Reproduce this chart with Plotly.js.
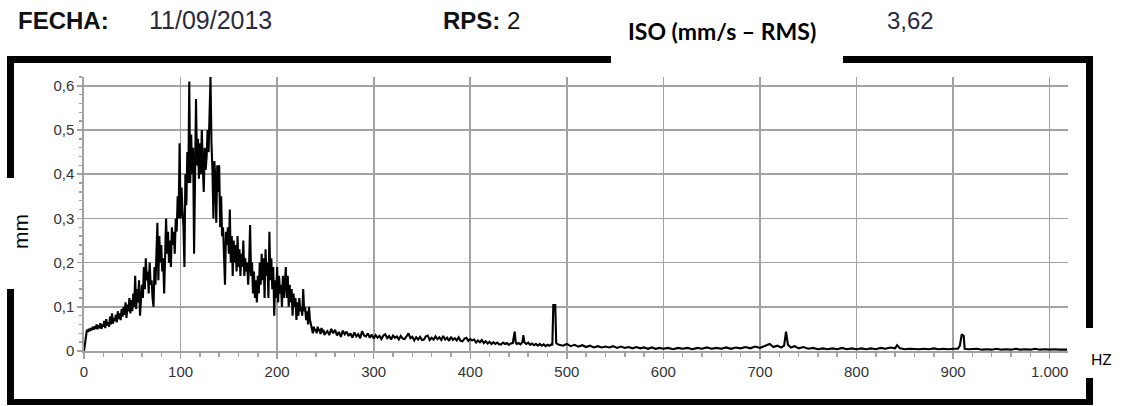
<!DOCTYPE html>
<html>
<head>
<meta charset="utf-8">
<script src="https://cdn.plot.ly/plotly-3.0.1.min.js"></script>
<style>
  html, body { margin: 0; padding: 0; background: #fff; }
  #chart { width: 1126px; height: 406px; }
</style>
</head>
<body>
<div id="chart"></div>
<script>
// ---- Data ----
// Low band, 1 Hz bins
const freqLowHz = [
  0, 1, 2, 3, 4, 5, 6, 7, 8, 9,
  10, 11, 12, 13, 14, 15, 16, 17, 18, 19,
  20, 21, 22, 23, 24, 25, 26, 27, 28, 29,
  30, 31, 32, 33, 34, 35, 36, 37, 38, 39,
  40, 41, 42, 43, 44, 45, 46, 47, 48, 49,
  50, 51, 52, 53, 54, 55, 56, 57, 58, 59,
  60, 61, 62, 63, 64, 65, 66, 67, 68, 69,
  70, 71, 72, 73, 74, 75, 76, 77, 78, 79,
  80, 81, 82, 83, 84, 85, 86, 87, 88, 89,
  90, 91, 92, 93, 94, 95, 96, 97, 98, 99,
  100, 101, 102, 103, 104, 105, 106, 107, 108, 109,
  110, 111, 112, 113, 114, 115, 116, 117, 118, 119,
  120, 121, 122, 123, 124, 125, 126, 127, 128, 129,
  130, 131, 132, 133, 134, 135, 136, 137, 138, 139,
  140, 141, 142, 143, 144, 145, 146, 147, 148, 149,
  150, 151, 152, 153, 154, 155, 156, 157, 158, 159,
  160, 161, 162, 163, 164, 165, 166, 167, 168, 169,
  170, 171, 172, 173, 174, 175, 176, 177, 178, 179,
  180, 181, 182, 183, 184, 185, 186, 187, 188, 189,
  190, 191, 192, 193, 194, 195, 196, 197, 198, 199,
  200, 201, 202, 203, 204, 205, 206, 207, 208, 209,
  210, 211, 212, 213, 214, 215, 216, 217, 218, 219,
  220, 221, 222, 223, 224, 225, 226, 227, 228, 229,
  230, 231, 232, 233, 234, 235, 236, 237, 238, 239,
  240, 241, 242, 243, 244, 245, 246, 247, 248, 249,
  250
];
const ampLowMm = [
  0, 0.02, 0.04, 0.048, 0.043, 0.05, 0.045, 0.052, 0.047, 0.055,
  0.048, 0.056, 0.05, 0.06, 0.049, 0.058, 0.052, 0.063, 0.05, 0.06,
  0.055, 0.068, 0.052, 0.072, 0.058, 0.065, 0.055, 0.078, 0.06, 0.085,
  0.062, 0.075, 0.068, 0.082, 0.065, 0.09, 0.072, 0.085, 0.07, 0.095,
  0.078, 0.1, 0.082, 0.11, 0.075, 0.105, 0.09, 0.12, 0.085, 0.115,
  0.09, 0.13, 0.1, 0.17, 0.095, 0.14, 0.11, 0.16, 0.08, 0.13,
  0.15, 0.12, 0.19, 0.14, 0.21, 0.16, 0.18, 0.13, 0.2, 0.15,
  0.16, 0.12, 0.1, 0.19, 0.15, 0.22, 0.29, 0.16, 0.26, 0.2,
  0.24, 0.18, 0.21, 0.13, 0.25, 0.3, 0.22, 0.27, 0.2, 0.25,
  0.19, 0.28, 0.24, 0.27, 0.22, 0.3, 0.27, 0.35, 0.3, 0.47,
  0.3, 0.37, 0.32, 0.28, 0.19, 0.4, 0.33, 0.45, 0.38, 0.61,
  0.38, 0.49, 0.4, 0.46, 0.22, 0.44, 0.57, 0.42, 0.48, 0.39,
  0.47, 0.4, 0.5, 0.42, 0.36, 0.46, 0.41, 0.44, 0.5, 0.45,
  0.56, 0.62, 0.47, 0.41, 0.3, 0.43, 0.39, 0.29, 0.42, 0.36,
  0.42, 0.28, 0.35, 0.26, 0.28, 0.23, 0.15, 0.27, 0.24, 0.28,
  0.22, 0.32, 0.2, 0.26, 0.17, 0.25, 0.2, 0.24, 0.18, 0.26,
  0.19, 0.23, 0.17, 0.22, 0.19, 0.25, 0.17, 0.21, 0.18, 0.2,
  0.15, 0.2, 0.285, 0.17, 0.2, 0.13, 0.18, 0.12, 0.16, 0.11,
  0.17, 0.13, 0.2, 0.15, 0.22, 0.16, 0.21, 0.12, 0.23, 0.17,
  0.2, 0.12, 0.27, 0.16, 0.21, 0.14, 0.19, 0.08, 0.16, 0.12,
  0.19, 0.11, 0.17, 0.13, 0.15, 0.1, 0.17, 0.12, 0.16, 0.19,
  0.12, 0.17, 0.1, 0.15, 0.11, 0.14, 0.08, 0.13, 0.1, 0.12,
  0.07, 0.11, 0.08, 0.12, 0.09, 0.1, 0.08, 0.14, 0.09, 0.1,
  0.07, 0.09, 0.06, 0.1, 0.07, 0.06, 0.045, 0.04, 0.055, 0.045,
  0.05, 0.04, 0.055, 0.045, 0.05, 0.038, 0.052, 0.042, 0.048, 0.036,
  0.04
];
// High band, coarser sampling with the discrete peaks
const freqHighHz = [
  252, 254, 256, 258, 260, 262, 264, 266, 268, 270,
  272, 274, 276, 278, 280, 282, 284, 286, 288, 290,
  292, 294, 296, 298, 300, 302, 304, 306, 308, 310,
  312, 314, 316, 318, 320, 322, 324, 326, 328, 330,
  332, 334, 336, 338, 340, 342, 344, 346, 348, 350,
  352, 354, 356, 358, 360, 362, 364, 366, 368, 370,
  372, 374, 376, 378, 380, 382, 384, 386, 388, 390,
  392, 394, 396, 398, 400, 402, 404, 406, 408, 410,
  412, 414, 416, 418, 420, 422, 424, 426, 428, 430,
  432, 434, 436, 438, 440, 442, 444, 446, 447, 448,
  450, 452, 454, 455, 456, 458, 460, 462, 464, 466,
  468, 470, 472, 474, 476, 478, 480, 482, 484, 485,
  486, 488, 489, 490, 492, 496, 500, 504, 508, 512,
  516, 520, 524, 528, 532, 536, 540, 544, 548, 552,
  556, 560, 564, 568, 572, 576, 580, 584, 588, 592,
  596, 600, 605, 610, 615, 620, 625, 630, 635, 640,
  645, 650, 655, 660, 665, 670, 675, 680, 685, 690,
  695, 700, 705, 710, 714, 718, 722, 725, 727, 729,
  732, 736, 740, 745, 750, 755, 760, 765, 770, 775,
  780, 785, 790, 795, 800, 805, 810, 815, 820, 825,
  830, 835, 840, 842, 845, 850, 855, 860, 865, 870,
  875, 880, 885, 890, 895, 900, 905, 907, 909, 911,
  912, 916, 920, 925, 930, 935, 940, 945, 950, 955,
  960, 965, 970, 975, 980, 985, 990, 995, 1000, 1005,
  1010, 1015, 1018
];
const ampHighMm = [
  0.045, 0.036, 0.05, 0.04, 0.048, 0.035, 0.043, 0.032, 0.046, 0.038,
  0.044, 0.034, 0.04, 0.03, 0.042, 0.033, 0.038, 0.029, 0.045, 0.035,
  0.033, 0.04, 0.03, 0.037, 0.028, 0.036, 0.03, 0.034, 0.027, 0.035,
  0.038, 0.029, 0.034, 0.026, 0.035, 0.03, 0.033, 0.026, 0.034, 0.028,
  0.027, 0.033, 0.04, 0.029, 0.032, 0.024, 0.031, 0.026, 0.032, 0.025,
  0.026, 0.033, 0.035, 0.025, 0.03, 0.026, 0.033, 0.027, 0.031, 0.025,
  0.034, 0.026, 0.03, 0.023, 0.032, 0.025, 0.029, 0.024, 0.031, 0.023,
  0.022, 0.028, 0.03, 0.023, 0.027, 0.024, 0.026, 0.019, 0.024, 0.02,
  0.025, 0.018, 0.022, 0.017, 0.021, 0.016, 0.02, 0.016, 0.019, 0.015,
  0.015, 0.019, 0.016, 0.018, 0.014, 0.017, 0.018, 0.044, 0.02, 0.016,
  0.018, 0.015, 0.02, 0.036, 0.02, 0.016, 0.019, 0.014, 0.017, 0.013,
  0.016, 0.012, 0.016, 0.012, 0.015, 0.011, 0.014, 0.012, 0.015, 0.013,
  0.104, 0.104, 0.018, 0.016, 0.014, 0.012, 0.016, 0.011, 0.014, 0.01,
  0.013, 0.009, 0.012, 0.008, 0.011, 0.008, 0.01, 0.008, 0.011, 0.007,
  0.01, 0.007, 0.009, 0.006, 0.009, 0.006, 0.008, 0.005, 0.008, 0.005,
  0.007, 0.005, 0.007, 0.004, 0.007, 0.005, 0.007, 0.004, 0.007, 0.005,
  0.008, 0.005, 0.007, 0.005, 0.008, 0.005, 0.008, 0.006, 0.009, 0.006,
  0.01, 0.007, 0.011, 0.016, 0.009, 0.012, 0.008, 0.012, 0.044, 0.014,
  0.008, 0.011, 0.006, 0.009, 0.005, 0.007, 0.004, 0.006, 0.004, 0.006,
  0.004, 0.007, 0.004, 0.006, 0.004, 0.006, 0.004, 0.006, 0.004, 0.007,
  0.005, 0.008, 0.006, 0.013, 0.006, 0.004, 0.005, 0.004, 0.004, 0.005,
  0.004, 0.006, 0.004, 0.005, 0.004, 0.005, 0.005, 0.012, 0.038, 0.034,
  0.005, 0.004, 0.004, 0.005, 0.003, 0.004, 0.003, 0.005, 0.003, 0.004,
  0.003, 0.005, 0.003, 0.004, 0.003, 0.005, 0.003, 0.004, 0.003, 0.004,
  0.003, 0.004, 0.003
];
const freqHz = freqLowHz.concat(freqHighHz);
const ampMm = ampLowMm.concat(ampHighMm);

const xTickVals = [0, 100, 200, 300, 400, 500, 600, 700, 800, 900, 1000];
const xTickText = ['0', '100', '200', '300', '400', '500', '600', '700', '800', '900', '1.000'];
const yTickVals = [0, 0.1, 0.2, 0.3, 0.4, 0.5, 0.6];
const yTickText = ['0', '0,1', '0,2', '0,3', '0,4', '0,5', '0,6'];

const fechaLabel = 'FECHA:';
const fechaValue = '11/09/2013';
const rpsLabel = 'RPS:';
const rpsValue = '2';
const isoLabel = 'ISO (mm/s \u2013 RMS)';
const isoValue = '3,62';
const yUnit = 'mm';
const xUnit = 'HZ';

// ---- Layout geometry (pixels) ----
const W = 1126, H = 406;
const M = { l: 84, r: 58, t: 77, b: 55 };
const PW = W - M.l - M.r, PH = H - M.t - M.b;
const px = x => (x - M.l) / PW;
const py = y => (H - M.b - y) / PH;

const arial = 'Liberation Sans, Arial, sans-serif';
const calib = 'Lato, Carlito, Calibri, sans-serif';
const gridCol = '#a2a2a2';

function rect(x0, y0, x1, y1) {
  return { type: 'rect', xref: 'paper', yref: 'paper', x0: px(x0), x1: px(x1), y0: py(y1), y1: py(y0),
           fillcolor: '#000', line: { width: 0 }, layer: 'above' };
}
function label(text, x, y, font, opts) {
  return Object.assign({ text: text, xref: 'paper', yref: 'paper', x: px(x), y: py(y),
    xanchor: 'left', yanchor: 'middle', showarrow: false, font: font }, opts || {});
}

const trace = {
  type: 'scatter', mode: 'lines', x: freqHz, y: ampMm,
  line: { color: '#000', width: 2.1 }, hoverinfo: 'skip'
};

const layout = {
  width: W, height: H,
  margin: M,
  paper_bgcolor: '#fff', plot_bgcolor: '#fff',
  showlegend: false,
  xaxis: {
    range: [0, 1019], tickmode: 'array', tickvals: xTickVals, ticktext: xTickText,
    showgrid: true, gridcolor: gridCol, gridwidth: 1.6, zeroline: false,
    showline: true, linecolor: gridCol, linewidth: 1.6,
    ticks: 'outside', ticklen: 6, tickcolor: gridCol, tickwidth: 1.5,
    minor: { tickmode: 'linear', tick0: 0, dtick: 20, ticks: 'outside', ticklen: 4, tickcolor: gridCol, showgrid: false },
    tickfont: { family: arial, size: 15, color: '#333' }, fixedrange: true
  },
  yaxis: {
    range: [0, 0.62], tickmode: 'array', tickvals: yTickVals, ticktext: yTickText,
    showgrid: true, gridcolor: gridCol, gridwidth: 1.6, zeroline: false,
    showline: true, linecolor: gridCol, linewidth: 1.6,
    ticks: 'outside', ticklen: 5, tickcolor: gridCol, tickwidth: 1.5,
    minor: { tickmode: 'linear', tick0: 0, dtick: 0.02, ticks: 'outside', ticklen: 3, tickcolor: gridCol, showgrid: false },
    tickfont: { family: arial, size: 15, color: '#333' }, fixedrange: true
  },
  shapes: [
    rect(7, 56, 611, 63), rect(843, 56, 1093, 63),
    rect(7, 56, 14, 178), rect(7, 289, 14, 405),
    rect(1086, 56, 1093, 328), rect(1086, 378, 1093, 405),
    rect(7, 399, 1093, 405)
  ],
  annotations: [
    label('<b>' + fechaLabel + '</b>', 16, 20, { family: arial, size: 24, color: '#111' }),
    label(fechaValue, 147, 20, { family: arial, size: 25, color: '#2a2a3c' }),
    label('<b>' + rpsLabel + '</b> ' + rpsValue, 441, 20, { family: arial, size: 24, color: '#111' }),
    label('<b>' + isoLabel + '</b>', 626, 31, { family: calib, size: 23, color: '#000' }),
    label(isoValue, 885, 20, { family: arial, size: 24, color: '#2a2a3c' }),
    label(yUnit, 20, 232, { family: arial, size: 21, color: '#000' }, { textangle: -90, xanchor: 'center' }),
    label(xUnit, 1089, 359, { family: calib, size: 15, color: '#000' })
  ]
};

Plotly.newPlot('chart', [trace], layout, { displayModeBar: false, staticPlot: true });
</script>
</body>
</html>
